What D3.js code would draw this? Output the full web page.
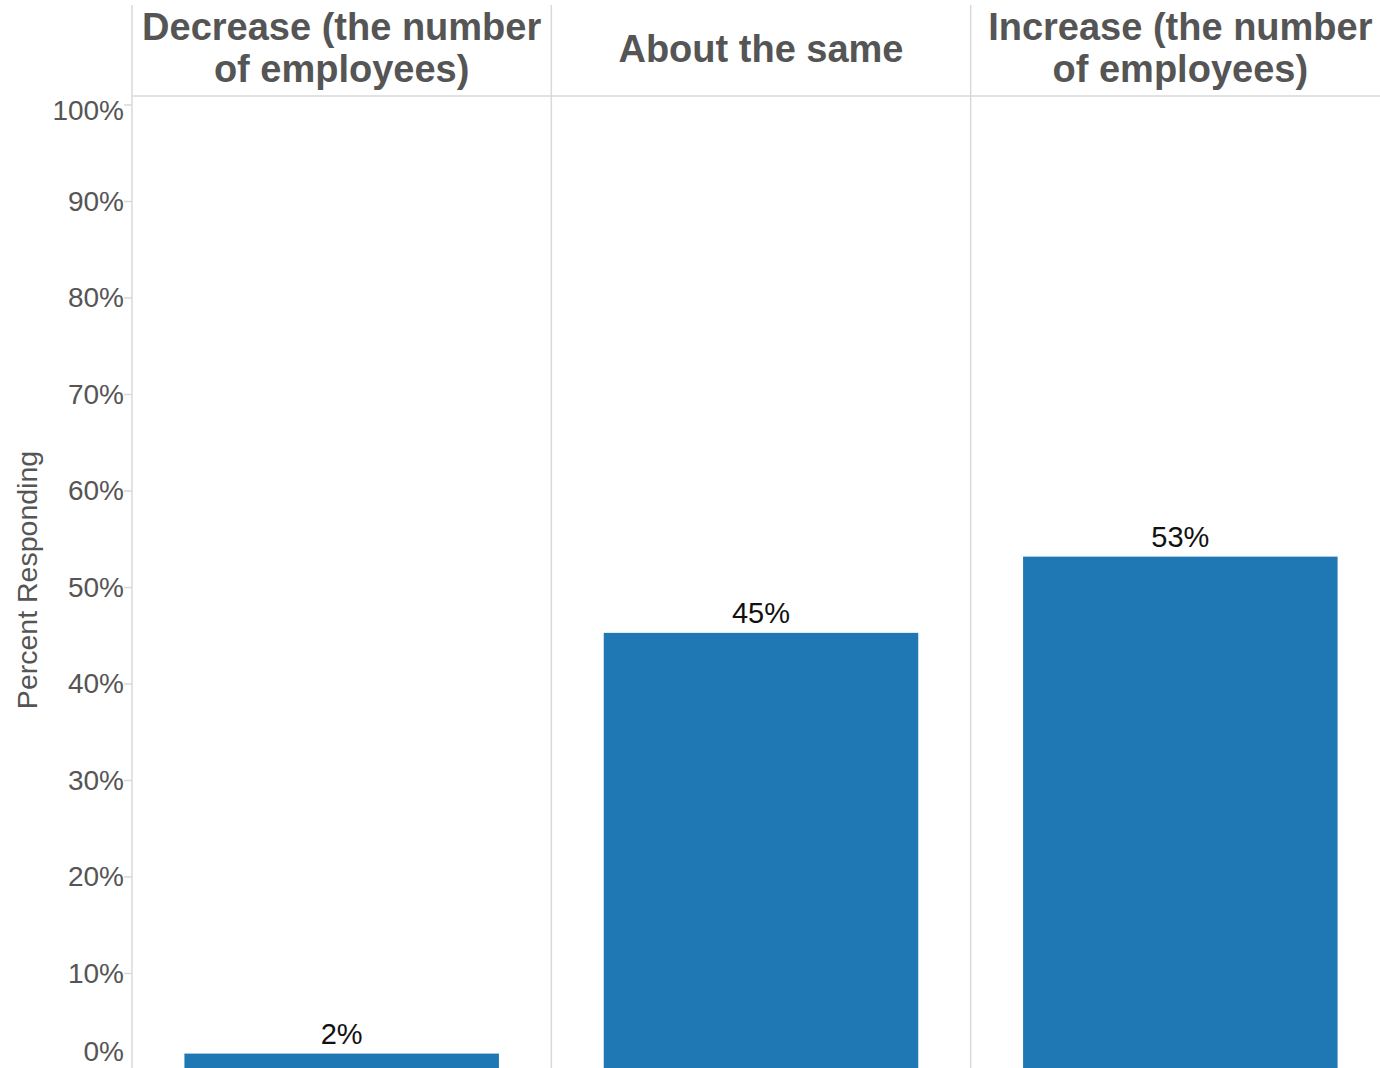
<!DOCTYPE html>
<html><head><meta charset="utf-8">
<script src="https://cdn.jsdelivr.net/npm/d3@7/dist/d3.min.js"></script>
<style>body{margin:0;background:#fff;overflow:hidden}svg{display:block}</style>
</head><body><svg id="c" width="1380" height="1068"></svg>
<script>
const categories = ["Decrease (the number|of employees)", "About the same", "Increase (the number|of employees)"];
const values = [0.017, 0.453, 0.532];
const valueLabels = ["2%", "45%", "53%"];
const tickValues = [0, 0.1, 0.2, 0.3, 0.4, 0.5, 0.6, 0.7, 0.8, 0.9, 1.0];
const axisTitle = "Percent Responding";

(function () {
const W = 1380, H = 1068;
const left = 132, right = 1390, topY = 5, headerBottom = 96;
const svg = d3.select("#c");
const font = "'Liberation Sans', Arial, sans-serif";

const x = d3.scaleBand().domain(categories).range([left, right]).padding(0);
const xb = d3.scaleBand().domain(categories).range([left, right]).paddingInner(0.25).paddingOuter(0.125);
const y = d3.scaleLinear().domain([0, 1]).range([1070, 105]);

const grid = "#d9d9d9";
svg.append("line").attr("x1", left).attr("x2", W).attr("y1", headerBottom).attr("y2", headerBottom)
  .attr("stroke", grid).attr("stroke-width", 1.5);
const edges = [left].concat(categories.map(c => x(c) + x.bandwidth()).slice(0, 2));
svg.selectAll("line.div").data(edges).join("line").attr("class", "div")
  .attr("x1", d => d).attr("x2", d => d).attr("y1", topY).attr("y2", H)
  .attr("stroke", grid).attr("stroke-width", 1.5);

svg.selectAll("rect.bar").data(categories).join("rect").attr("class", "bar")
  .attr("x", d => xb(d)).attr("width", xb.bandwidth())
  .attr("y", (d, i) => y(values[i])).attr("height", (d, i) => y(0) - y(values[i]))
  .attr("fill", "#1f77b4");

svg.selectAll("text.val").data(categories).join("text").attr("class", "val")
  .attr("x", d => xb(d) + xb.bandwidth() / 2)
  .attr("y", (d, i) => y(values[i]) - 10)
  .attr("text-anchor", "middle").attr("font-family", font).attr("font-size", 29)
  .attr("fill", "#111").text((d, i) => valueLabels[i]);

categories.forEach(c => {
  const lines = c.split("|");
  const cx = x(c) + x.bandwidth() / 2;
  const t = svg.append("text").attr("text-anchor", "middle").attr("font-family", font)
    .attr("font-weight", "bold").attr("font-size", 38).attr("fill", "#555");
  const lh = 42;
  const base = lines.length === 2 ? 40 : 62;
  lines.forEach((l, i) => t.append("tspan").attr("x", cx).attr("y", base + i * lh).text(l));
});

const fmt = d3.format(".0%");
const ax = svg.append("g");
tickValues.forEach(v => {
  ax.append("line").attr("x1", left - 8).attr("x2", left).attr("y1", y(v)).attr("y2", y(v))
    .attr("stroke", grid).attr("stroke-width", 1.5);
  const ly = Math.max(headerBottom + 15, Math.min(H - 16, y(v)));
  ax.append("text").attr("x", left - 8).attr("y", ly).attr("dy", "0.33em")
    .attr("text-anchor", "end").attr("font-family", font).attr("font-size", 28)
    .attr("fill", "#555").text(fmt(v));
});

svg.append("text").attr("transform", "translate(37,580) rotate(-90)")
  .attr("text-anchor", "middle").attr("font-family", font).attr("font-size", 28.5)
  .attr("fill", "#555").text(axisTitle);
})();
</script></body></html>
